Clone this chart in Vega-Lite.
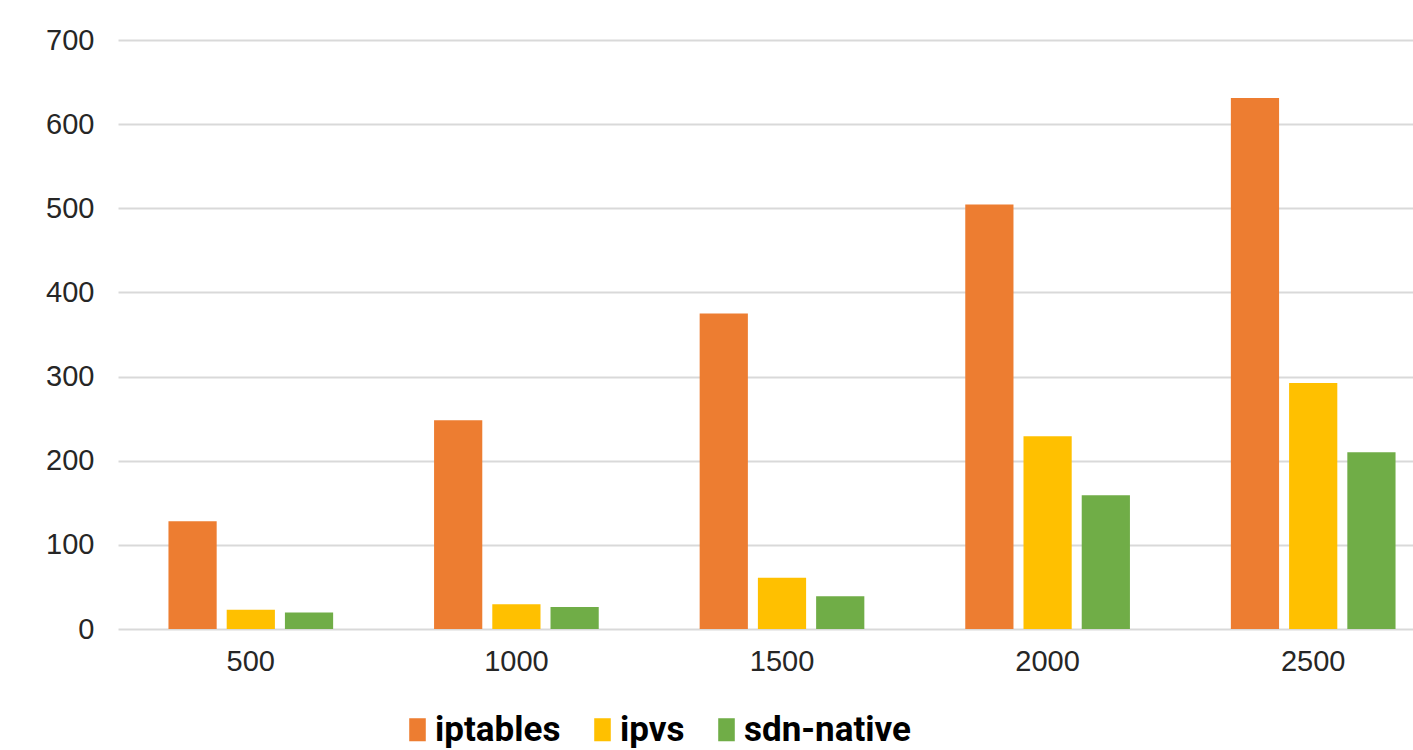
{
  "$schema": "https://vega.github.io/schema/vega-lite/v6.json",
  "autosize": {"type": "none"},
  "padding": {"left": 118, "top": 40, "right": 0, "bottom": 121},
  "width": 1295,
  "height": 589,
  "background": "white",
  "data": {
    "values": [
      {"n": "500", "series": "iptables", "v": 128},
      {"n": "500", "series": "ipvs", "v": 23},
      {"n": "500", "series": "sdn-native", "v": 19.5},
      {"n": "1000", "series": "iptables", "v": 248},
      {"n": "1000", "series": "ipvs", "v": 29.5},
      {"n": "1000", "series": "sdn-native", "v": 26},
      {"n": "1500", "series": "iptables", "v": 375},
      {"n": "1500", "series": "ipvs", "v": 61},
      {"n": "1500", "series": "sdn-native", "v": 39},
      {"n": "2000", "series": "iptables", "v": 504.5},
      {"n": "2000", "series": "ipvs", "v": 229},
      {"n": "2000", "series": "sdn-native", "v": 159},
      {"n": "2500", "series": "iptables", "v": 631},
      {"n": "2500", "series": "ipvs", "v": 292.5},
      {"n": "2500", "series": "sdn-native", "v": 210}
    ]
  },
  "mark": {"type": "bar"},
  "encoding": {
    "x": {
      "field": "n", "type": "nominal", "sort": ["500", "1000", "1500", "2000", "2500"],
      "scale": {"range": [0, 1328], "paddingInner": 0.38, "paddingOuter": 0.19},
      "axis": {"title": null, "labelAngle": 0, "ticks": false, "domain": false, "grid": false,
               "labelFont": "Liberation Sans", "labelFontSize": 29, "labelColor": "#262626", "labelPadding": 18}
    },
    "xOffset": {
      "field": "series", "type": "nominal", "sort": ["iptables", "ipvs", "sdn-native"],
      "scale": {"paddingInner": 0.172, "paddingOuter": 0}
    },
    "y": {
      "field": "v", "type": "quantitative",
      "scale": {"domain": [0, 700], "nice": false},
      "axis": {"title": null, "values": [0, 100, 200, 300, 400, 500, 600, 700], "ticks": false, "domain": false,
               "grid": true, "gridColor": "#d9d9d9", "gridWidth": 2,
               "labelFont": "Liberation Sans", "labelFontSize": 29, "labelColor": "#262626", "labelPadding": 24}
    },
    "color": {
      "field": "series", "type": "nominal", "sort": ["iptables", "ipvs", "sdn-native"],
      "scale": {"domain": ["iptables", "ipvs", "sdn-native"], "range": ["#ED7D31", "#FFC000", "#70AD47"]},
      "legend": {
        "title": null, "orient": "none", "direction": "horizontal", "legendX": 282, "legendY": 672,
        "symbolType": "M-0.72,-1H0.72V1H-0.72Z", "symbolSize": 530, "symbolStrokeWidth": 0,
        "labelFont": "Roboto", "labelFontWeight": "bold", "labelFontSize": 35,
        "labelColor": "#000000", "labelOffset": 0, "columnPadding": 24, "padding": 0, "labelLimit": 400
      }
    }
  },
  "config": {"view": {"stroke": null}}
}
